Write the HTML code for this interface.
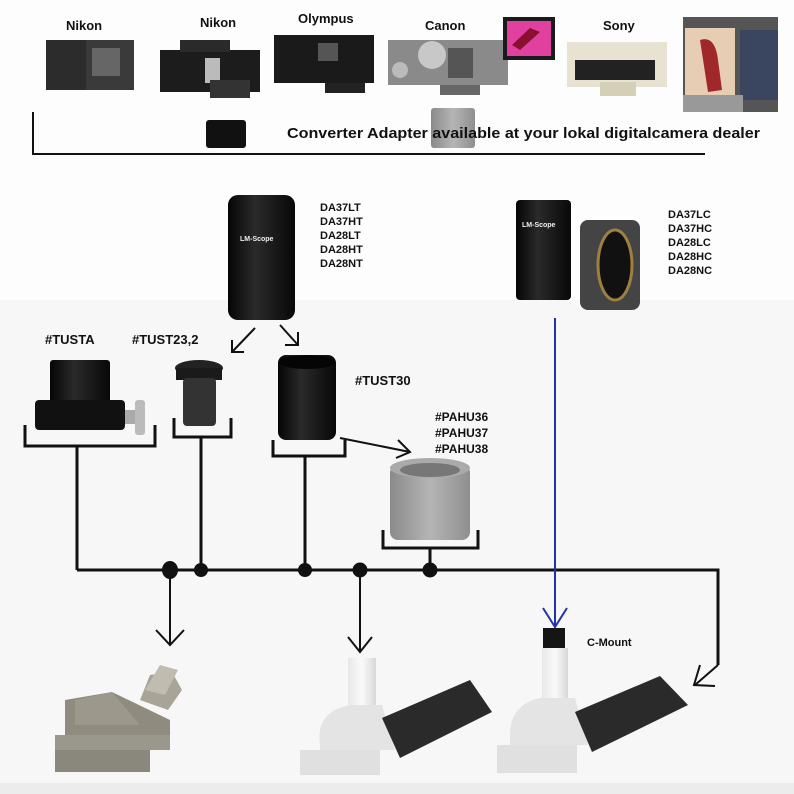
<!DOCTYPE html>
<html><head><meta charset="utf-8"><style>
html,body{margin:0;padding:0;background:#fff}
svg{display:block}
text{font-family:"Liberation Sans",Arial,sans-serif;font-weight:bold;fill:#111}
</style></head><body>
<svg width="794" height="794" viewBox="0 0 794 794" xmlns="http://www.w3.org/2000/svg">
<defs>
<linearGradient id="blk" x1="0" x2="1"><stop offset="0" stop-color="#050505"/><stop offset=".4" stop-color="#2a2a2a"/><stop offset="1" stop-color="#080808"/></linearGradient>
<linearGradient id="gry" x1="0" x2="1"><stop offset="0" stop-color="#8a8a8a"/><stop offset=".5" stop-color="#b5b5b5"/><stop offset="1" stop-color="#8f8f8f"/></linearGradient>
<linearGradient id="wht" x1="0" x2="1"><stop offset="0" stop-color="#e8e8e8"/><stop offset=".5" stop-color="#fafafa"/><stop offset="1" stop-color="#d8d8d8"/></linearGradient>
</defs>
<rect width="794" height="794" fill="#fdfdfd"/>
<rect x="0" y="300" width="794" height="490" fill="#f7f7f7"/>
<rect x="0" y="783" width="794" height="11" fill="#ececec"/>

<!-- top cameras -->
<text x="66" y="30" font-size="13">Nikon</text>
<text x="200" y="27" font-size="13">Nikon</text>
<text x="298" y="23" font-size="13">Olympus</text>
<text x="425" y="30" font-size="13">Canon</text>
<text x="603" y="30" font-size="13">Sony</text>
<rect x="46" y="40" width="40" height="50" fill="#2c2c2c"/>
<rect x="86" y="40" width="48" height="50" fill="#3a3a3a"/>
<rect x="92" y="48" width="28" height="28" fill="#666"/>
<rect x="160" y="50" width="100" height="42" fill="#1c1c1c"/>
<rect x="180" y="40" width="50" height="12" fill="#2a2a2a"/>
<rect x="205" y="58" width="15" height="25" fill="#bbb"/>
<rect x="210" y="80" width="40" height="18" fill="#333"/>
<rect x="274" y="35" width="100" height="48" fill="#1a1a1a"/>
<rect x="318" y="43" width="20" height="18" fill="#555"/>
<rect x="325" y="83" width="40" height="10" fill="#222"/>
<rect x="388" y="40" width="120" height="45" fill="#8a8a8a"/>
<circle cx="432" cy="55" r="14" fill="#c8c8c8"/>
<circle cx="400" cy="70" r="8" fill="#bbb"/>
<rect x="448" y="48" width="25" height="30" fill="#555"/>
<rect x="440" y="85" width="40" height="10" fill="#666"/>
<rect x="503" y="17" width="52" height="43" fill="#1a1a1a"/>
<rect x="507" y="21" width="44" height="35" fill="#e040a0"/>
<path d="M512 45 L530 28 L540 32 L520 50Z" fill="#8a1030"/>
<rect x="567" y="42" width="100" height="45" fill="#e8e2d2"/>
<rect x="575" y="60" width="80" height="20" fill="#222"/>
<rect x="600" y="82" width="36" height="14" fill="#d6cfb8"/>
<rect x="683" y="17" width="95" height="95" fill="#555"/>
<rect x="685" y="28" width="50" height="70" fill="#e8cdb5"/>
<path d="M700 40 Q715 35 718 60 L722 90 L708 92 Z" fill="#a0282a"/>
<rect x="740" y="30" width="38" height="70" fill="#3a4660"/>
<rect x="683" y="95" width="60" height="17" fill="#999"/>

<polyline points="33,112 33,154 705,154" fill="none" stroke="#111" stroke-width="2"/>
<rect x="206" y="120" width="40" height="28" rx="3" fill="#111"/>
<rect x="431" y="108" width="44" height="40" rx="3" fill="url(#gry)"/>
<text x="287" y="138" font-size="15" textLength="473" lengthAdjust="spacingAndGlyphs">Converter Adapter available at your lokal digitalcamera dealer</text>

<!-- DA tube -->
<rect x="228" y="195" width="67" height="125" rx="10" fill="url(#blk)"/>
<text x="240" y="241" font-size="7" style="fill:#eee">LM-Scope</text>
<g font-size="11"><text x="320" y="211">DA37LT</text><text x="320" y="225">DA37HT</text><text x="320" y="239">DA28LT</text><text x="320" y="253">DA28HT</text><text x="320" y="267">DA28NT</text></g>

<!-- right tube -->
<rect x="580" y="220" width="60" height="90" rx="8" fill="#444"/>
<rect x="516" y="200" width="55" height="100" rx="4" fill="url(#blk)"/>
<ellipse cx="615" cy="265" rx="17" ry="35" fill="#111" stroke="#a08040" stroke-width="3"/>
<text x="522" y="227" font-size="7" style="fill:#eee">LM-Scope</text>
<g font-size="11"><text x="668" y="218">DA37LC</text><text x="668" y="232">DA37HC</text><text x="668" y="246">DA28LC</text><text x="668" y="260">DA28HC</text><text x="668" y="274">DA28NC</text></g>

<g stroke="#111" stroke-width="2" fill="none">
<line x1="255" y1="328" x2="232" y2="352"/><polyline points="232,340 232,352 244,352"/>
<line x1="280" y1="325" x2="298" y2="345"/><polyline points="285,345 298,345 298,332"/>
</g>

<text x="45" y="344" font-size="13">#TUSTA</text>
<text x="132" y="344" font-size="13">#TUST23,2</text>
<text x="355" y="385" font-size="13">#TUST30</text>
<g font-size="12"><text x="435" y="421">#PAHU36</text><text x="435" y="437">#PAHU37</text><text x="435" y="453">#PAHU38</text></g>

<rect x="50" y="360" width="60" height="45" rx="3" fill="url(#blk)"/>
<rect x="35" y="400" width="90" height="30" rx="4" fill="#111"/>
<rect x="125" y="410" width="12" height="14" fill="#aaa"/>
<rect x="135" y="400" width="10" height="35" rx="3" fill="#bbb"/>
<ellipse cx="199" cy="368" rx="24" ry="8" fill="#222"/>
<rect x="176" y="368" width="46" height="12" fill="#1a1a1a"/>
<rect x="183" y="378" width="33" height="48" rx="4" fill="#333"/>
<rect x="278" y="355" width="58" height="85" rx="8" fill="url(#blk)"/>
<ellipse cx="307" cy="362" rx="28" ry="7" fill="#050505"/>
<rect x="390" y="465" width="80" height="75" rx="8" fill="url(#gry)"/>
<ellipse cx="430" cy="468" rx="40" ry="10" fill="#aaa"/>
<ellipse cx="430" cy="470" rx="30" ry="7" fill="#777"/>

<g stroke="#111" stroke-width="3" fill="none">
<polyline points="25,425 25,446 155,446 155,425"/>
<polyline points="174,418 174,437 231,437 231,418"/>
<polyline points="273,440 273,456 345,456 345,440"/>
<polyline points="383,530 383,548 478,548 478,530"/>
<line x1="77" y1="446" x2="77" y2="570"/>
<line x1="201" y1="437" x2="201" y2="570"/>
<line x1="305" y1="456" x2="305" y2="570"/>
<line x1="430" y1="548" x2="430" y2="570"/>
<polyline points="77,570 718,570 718,665"/>
</g>
<g stroke="#111" stroke-width="2" fill="none">
<line x1="340" y1="438" x2="410" y2="452"/><polyline points="398,440 410,452 396,458"/>
<line x1="170" y1="570" x2="170" y2="645"/><polyline points="156,630 170,645 184,630"/>
<line x1="360" y1="570" x2="360" y2="652"/><polyline points="348,637 360,652 372,637"/>
<line x1="718" y1="665" x2="695" y2="685"/><polyline points="700,665 694,685 715,686"/>
</g>
<g fill="#111"><ellipse cx="170" cy="570" rx="8" ry="9"/><circle cx="201" cy="570" r="7"/><circle cx="305" cy="570" r="7"/><circle cx="360" cy="570" r="7.5"/><circle cx="430" cy="570" r="7.5"/></g>

<g stroke="#2233aa" stroke-width="2" fill="none"><line x1="555" y1="318" x2="555" y2="627"/><polyline points="543,608 555,627 567,608"/></g>

<!-- left microscope -->
<path d="M140 700 L150 675 L172 672 L182 690 L168 710Z" fill="#a8a498"/>
<path d="M145 690 L160 665 L178 670 L165 695Z" fill="#c0bcb0"/>
<path d="M65 735 L65 700 L112 692 L170 720 L170 735Z" fill="#8f8b7e"/>
<path d="M75 700 L112 692 L140 725 L75 725Z" fill="#9c988b"/>
<rect x="55" y="735" width="115" height="15" fill="#9a978c"/>
<rect x="55" y="750" width="95" height="22" fill="#8a877c"/>
<!-- middle microscope -->
<rect x="348" y="658" width="28" height="70" fill="url(#wht)"/>
<path d="M320 745 Q315 712 350 705 L382 705 L395 750 L320 750Z" fill="#e4e4e4"/>
<path d="M382 718 L470 680 L492 712 L400 758Z" fill="#2a2a2a"/>
<rect x="300" y="750" width="80" height="25" fill="#e0e0e0"/>
<!-- right microscope -->
<rect x="543" y="628" width="22" height="20" fill="#151515"/>
<rect x="542" y="648" width="26" height="80" fill="url(#wht)"/>
<path d="M510 740 Q508 705 540 698 L575 698 L588 745 L510 745Z" fill="#e4e4e4"/>
<path d="M575 712 L660 676 L688 705 L592 752Z" fill="#2a2a2a"/>
<rect x="497" y="745" width="80" height="28" fill="#e0e0e0"/>
<text x="587" y="646" font-size="11">C-Mount</text>
</svg>
</body></html>
